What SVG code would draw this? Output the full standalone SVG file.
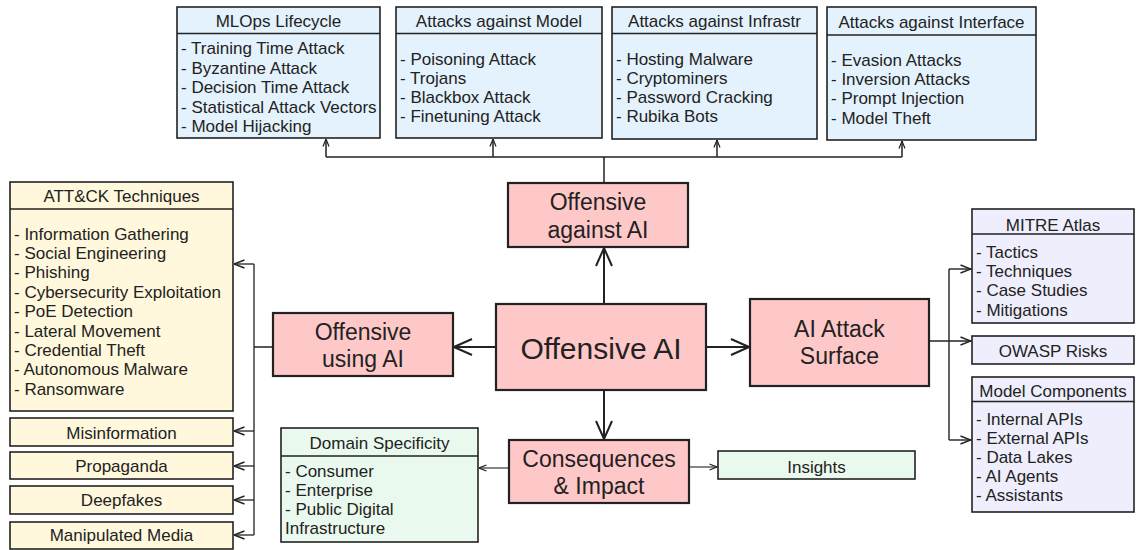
<svg xmlns="http://www.w3.org/2000/svg" width="1136" height="550" viewBox="0 0 1136 550">
<style>
text{font-family:"Liberation Sans",Arial,Helvetica,sans-serif;fill:#222;}
.t{font-size:17px;}
.c{text-anchor:middle;}
.big{font-size:23px;text-anchor:middle;}
.huge{font-size:30px;text-anchor:middle;}
.pink{fill:#FFC8C8;stroke:#222;stroke-width:2.2;}
.blue{fill:#E4F2FD;stroke:#222;stroke-width:1.6;}
.yel{fill:#FFF8DC;stroke:#222;stroke-width:1.6;}
.grn{fill:#EAF9EE;stroke:#222;stroke-width:1.6;}
.lav{fill:#EEEEFC;stroke:#222;stroke-width:1.6;}
.sep{stroke:#222;stroke-width:1.6;}
.ln{fill:none;stroke:#222;}
</style>
<defs>
<marker id="ab" markerUnits="userSpaceOnUse" markerWidth="20" markerHeight="18" viewBox="0 0 20 18" refX="19" refY="9" orient="auto"><path d="M1,1 L19,9 L1,17" fill="none" stroke="#222" stroke-width="2"/></marker>
<marker id="am" markerUnits="userSpaceOnUse" markerWidth="12" markerHeight="10" viewBox="0 0 12 10" refX="11.5" refY="5" orient="auto"><path d="M1,1 L11.5,5 L1,9" fill="none" stroke="#222" stroke-width="1.4"/></marker>
<marker id="as" markerUnits="userSpaceOnUse" markerWidth="9" markerHeight="8" viewBox="0 0 9 8" refX="8.5" refY="4" orient="auto"><path d="M1,1 L8.5,4 L1,7" fill="none" stroke="#222" stroke-width="1.2"/></marker>
</defs>

<g id="connectors">
<!-- to top boxes -->
<path class="ln" stroke-width="1.5" d="M604,183 V157 M326,157 H902"/>
<path class="ln" stroke-width="1.5" d="M326,157 V139" marker-end="url(#as)"/>
<path class="ln" stroke-width="1.5" d="M493,157 V139" marker-end="url(#as)"/>
<path class="ln" stroke-width="1.5" d="M717,157 V140" marker-end="url(#as)"/>
<path class="ln" stroke-width="1.5" d="M902,157 V141" marker-end="url(#as)"/>
<!-- main arrows -->
<path class="ln" stroke-width="2" d="M604,304 V248" marker-end="url(#ab)"/>
<path class="ln" stroke-width="2" d="M496,347 H454" marker-end="url(#ab)"/>
<path class="ln" stroke-width="2" d="M706,347 H749" marker-end="url(#ab)"/>
<path class="ln" stroke-width="2" d="M604,390 V439" marker-end="url(#ab)"/>
<!-- left tree -->
<path class="ln" stroke-width="1.3" d="M273,347 H254 M254,264 V535"/>
<path class="ln" stroke-width="1.3" d="M254,264 H234" marker-end="url(#am)"/>
<path class="ln" stroke-width="1.3" d="M254,431 H234" marker-end="url(#am)"/>
<path class="ln" stroke-width="1.3" d="M254,466 H234" marker-end="url(#am)"/>
<path class="ln" stroke-width="1.3" d="M254,500 H234" marker-end="url(#am)"/>
<path class="ln" stroke-width="1.3" d="M254,535 H234" marker-end="url(#am)"/>
<!-- right tree -->
<path class="ln" stroke-width="1.4" d="M949,269 V440"/>
<path class="ln" stroke-width="1.4" d="M929,341 H971" marker-end="url(#am)"/>
<path class="ln" stroke-width="1.4" d="M949,269 H971" marker-end="url(#am)"/>
<path class="ln" stroke-width="1.4" d="M949,440 H971" marker-end="url(#am)"/>
<!-- bottom -->
<path class="ln" stroke-width="1.1" d="M509,468 H479" marker-end="url(#as)"/>
<path class="ln" stroke-width="1.1" d="M689,467 H717" marker-end="url(#as)"/>
</g>

<g id="mlops">
<rect class="blue" x="177" y="7" width="203" height="131"/>
<line class="sep" x1="177" y1="33.5" x2="380" y2="33.5"/>
<text class="t c" x="278.5" y="27">MLOps Lifecycle</text>
<text class="t" x="181" y="54">- Training Time Attack</text>
<text class="t" x="181" y="73.5">- Byzantine Attack</text>
<text class="t" x="181" y="93">- Decision Time Attack</text>
<text class="t" x="181" y="112.5">- Statistical Attack Vectors</text>
<text class="t" x="181" y="132">- Model Hijacking</text>
</g>

<g id="model">
<rect class="blue" x="396" y="7" width="206" height="131"/>
<line class="sep" x1="396" y1="33.5" x2="602" y2="33.5"/>
<text class="t c" x="499" y="27">Attacks against Model</text>
<text class="t" x="400" y="64.5">- Poisoning Attack</text>
<text class="t" x="400" y="83.7">- Trojans</text>
<text class="t" x="400" y="102.9">- Blackbox Attack</text>
<text class="t" x="400" y="122.1">- Finetuning Attack</text>
</g>

<g id="infra">
<rect class="blue" x="612" y="7" width="205" height="132"/>
<line class="sep" x1="612" y1="33.5" x2="817" y2="33.5"/>
<text class="t c" x="714.5" y="27">Attacks against Infrastr</text>
<text class="t" x="616" y="64.5">- Hosting Malware</text>
<text class="t" x="616" y="83.7">- Cryptominers</text>
<text class="t" x="616" y="102.9">- Password Cracking</text>
<text class="t" x="616" y="122.1">- Rubika Bots</text>
</g>

<g id="interface">
<rect class="blue" x="827" y="7" width="209" height="133"/>
<line class="sep" x1="827" y1="35" x2="1036" y2="35"/>
<text class="t c" x="931.5" y="27.5">Attacks against Interface</text>
<text class="t" x="831" y="66">- Evasion Attacks</text>
<text class="t" x="831" y="85.2">- Inversion Attacks</text>
<text class="t" x="831" y="104.4">- Prompt Injection</text>
<text class="t" x="831" y="123.6">- Model Theft</text>
</g>

<g id="offensive-against-ai">
<rect class="pink" x="508" y="183" width="180" height="64"/>
<text class="big" x="598" y="209.5">Offensive</text>
<text class="big" x="598" y="237.5">against AI</text>
</g>

<g id="offensive-ai">
<rect class="pink" x="496" y="304" width="210" height="86" stroke-width="3.6"/>
<text class="huge" x="601" y="358.5">Offensive AI</text>
</g>

<g id="offensive-using-ai">
<rect class="pink" x="273" y="313" width="180" height="63"/>
<text class="big" x="363" y="340">Offensive</text>
<text class="big" x="363" y="366.5">using AI</text>
</g>

<g id="ai-attack-surface">
<rect class="pink" x="750" y="299" width="179" height="87"/>
<text class="big" x="839.5" y="337">AI Attack</text>
<text class="big" x="839.5" y="364">Surface</text>
</g>

<g id="consequences">
<rect class="pink" x="509" y="440" width="180" height="63"/>
<text class="big" x="599" y="467">Consequences</text>
<text class="big" x="599" y="493.5">&amp; Impact</text>
</g>

<g id="attck">
<rect class="yel" x="10" y="182" width="223" height="229"/>
<line class="sep" x1="10" y1="209" x2="233" y2="209"/>
<text class="t c" x="121.5" y="202">ATT&amp;CK Techniques</text>
<text class="t" x="14" y="239.5">- Information Gathering</text>
<text class="t" x="14" y="258.9">- Social Engineering</text>
<text class="t" x="14" y="278.3">- Phishing</text>
<text class="t" x="14" y="297.7">- Cybersecurity Exploitation</text>
<text class="t" x="14" y="317.1">- PoE Detection</text>
<text class="t" x="14" y="336.5">- Lateral Movement</text>
<text class="t" x="14" y="355.9">- Credential Theft</text>
<text class="t" x="14" y="375.3">- Autonomous Malware</text>
<text class="t" x="14" y="394.7">- Ransomware</text>
</g>

<g id="misinformation">
<rect class="yel" x="10" y="418" width="223" height="28" stroke-width="1.2"/>
<text class="t c" x="121.5" y="438.5">Misinformation</text>
</g>
<g id="propaganda">
<rect class="yel" x="10" y="452" width="223" height="27"/>
<text class="t c" x="121.5" y="472">Propaganda</text>
</g>
<g id="deepfakes">
<rect class="yel" x="10" y="486" width="223" height="28"/>
<text class="t c" x="121.5" y="506">Deepfakes</text>
</g>
<g id="manipulated-media">
<rect class="yel" x="10" y="522" width="223" height="27" stroke-width="2.2"/>
<text class="t c" x="121.5" y="541">Manipulated Media</text>
</g>

<g id="domain-specificity">
<rect class="grn" x="281" y="428" width="197" height="114"/>
<line class="sep" x1="281" y1="456" x2="478" y2="456"/>
<text class="t c" x="379.5" y="448.5">Domain Specificity</text>
<text class="t" x="285" y="476.5">- Consumer</text>
<text class="t" x="285" y="495.5">- Enterprise</text>
<text class="t" x="285" y="514.5">- Public Digital</text>
<text class="t" x="285" y="533.5">Infrastructure</text>
</g>

<g id="insights">
<rect class="grn" x="718" y="451" width="197" height="28"/>
<text class="t c" x="816.5" y="472.5">Insights</text>
</g>

<g id="mitre-atlas">
<rect class="lav" x="972" y="209" width="162" height="114"/>
<line class="sep" x1="972" y1="234" x2="1134" y2="234"/>
<text class="t c" x="1053" y="231">MITRE Atlas</text>
<text class="t" x="976" y="257.5">- Tactics</text>
<text class="t" x="976" y="276.9">- Techniques</text>
<text class="t" x="976" y="296.3">- Case Studies</text>
<text class="t" x="976" y="315.7">- Mitigations</text>
</g>

<g id="owasp">
<rect class="lav" x="972" y="336" width="162" height="28"/>
<text class="t c" x="1053" y="356.5">OWASP Risks</text>
</g>

<g id="model-components">
<rect class="lav" x="972" y="377" width="162" height="135"/>
<line class="sep" x1="972" y1="401.5" x2="1134" y2="401.5"/>
<text class="t c" x="1053" y="396.5">Model Components</text>
<text class="t" x="976" y="425">- Internal APIs</text>
<text class="t" x="976" y="444">- External APIs</text>
<text class="t" x="976" y="463">- Data Lakes</text>
<text class="t" x="976" y="482">- AI Agents</text>
<text class="t" x="976" y="501">- Assistants</text>
</g>
</svg>
